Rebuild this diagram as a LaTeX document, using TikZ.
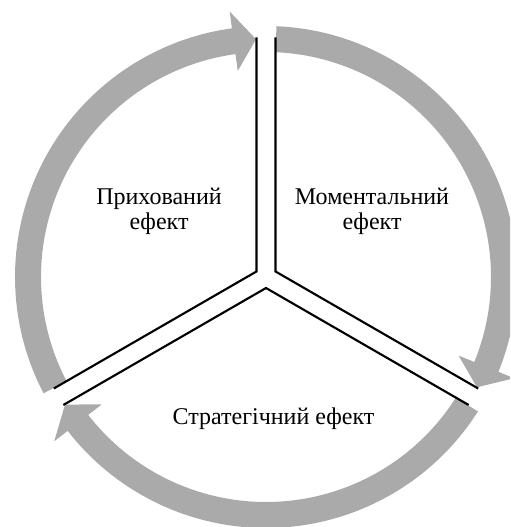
\documentclass[tikz,border=0pt]{standalone}
\usepackage{fontspec}
\setmainfont{Liberation Serif}
\definecolor{arcgray}{RGB}{170,170,170}
% gray circular arrow: start angle, tip angle (clockwise), around C
\newcommand\cyclearrow[2]{%
  \fill[arcgray, shift={(C)}]
    ({#1}:251) arc[start angle={#1}, end angle={#2+5.4}, radius=251]
    -- ({#2+5.4}:268) -- ({#2}:238) -- ({#2+5.4}:208) -- ({#2+5.4}:225)
    arc[start angle={#2+5.4}, end angle={#1}, radius=225] -- cycle;
}
\begin{document}
\begin{tikzpicture}[x=0.75pt, y=0.75pt,
  sector line/.style={draw=black, line width=1.6pt, line join=miter},
  label text/.style={font=\fontsize{18}{18.75}\selectfont, inner sep=0pt, align=center}]
\useasboundingbox (0,0) rectangle (510,527);
\clip (0,0) rectangle (510,527);
\coordinate (C) at (266,250);

% three arrows of the cycle
\cyclearrow{207.6}{92.4}
\cyclearrow{87.6}{-27.6}
\cyclearrow{-32.4}{-147.6}

% sector corners and the ends of their edges
\coordinate (pA)  at (256.47,255.5);
\coordinate (pA1) at (256.47,489.5);
\coordinate (pA2) at (53.82,138.5);
\coordinate (pB)  at (275.53,255.5);
\coordinate (pB1) at (275.53,489.5);
\coordinate (pB2) at (478.18,138.5);
\coordinate (pC)  at (266,239);
\coordinate (pC1) at (63.35,122);
\coordinate (pC2) at (468.65,122);

\draw[sector line] (pA1) -- (pA) -- (pA2);
\draw[sector line] (pB1) -- (pB) -- (pB2);
\draw[sector line] (pC1) -- (pC) -- (pC2);

% labels
\node[label text] (hidden) at (159,316) {Прихований\\ефект};
\node[label text] (instant) at (372,316) {Моментальний\\ефект};
\node[label text, anchor=base] (strategic) at (273.5,102) {Стратегічний ефект};
\end{tikzpicture}
\end{document}
